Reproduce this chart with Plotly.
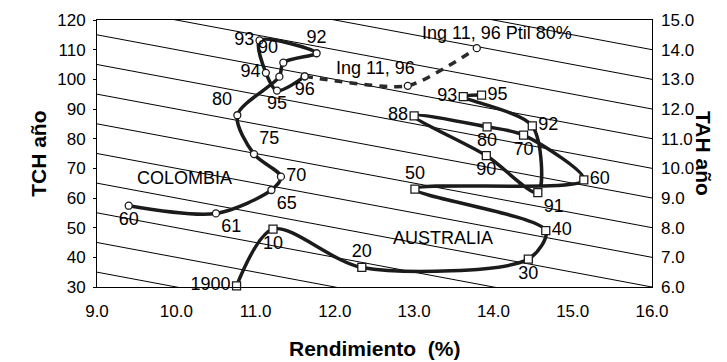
import plotly.graph_objects as go

# Colombia: yield (%) vs cane tonnage (TCH), labelled by year
col_year = ["60", "61", "65", "70", "75", "80", "", "90", "92", "93", "94", "95", "96"]
col_rend = [9.40, 10.50, 11.20, 11.32, 10.98, 10.77, 11.30, 11.35, 11.77, 11.05, 11.13, 11.27, 11.62]
col_tch = [57.4, 54.8, 62.7, 67.2, 74.8, 87.9, 100.9, 105.6, 108.8, 113.1, 102.2, 96.2, 101.0]

# Australia
aus_year = ["1900", "10", "20", "30", "40", "50", "60", "70", "80", "88", "90", "91", "92", "93", "95"]
aus_rend = [10.76, 11.22, 12.34, 14.44, 14.66, 13.01, 15.14, 14.38, 13.92, 13.00, 13.91, 14.56, 14.49, 13.62, 13.85]
aus_tch = [30.4, 49.5, 36.6, 39.4, 49.0, 63.0, 66.1, 81.2, 84.0, 87.7, 74.3, 61.8, 84.3, 94.2, 94.7]

# Projection from 1996 to the Ing 11 scenarios
ing_rend = [11.62, 12.92, 13.79]
ing_tch = [101.0, 97.8, 110.5]

# Guide lines: TCH value at 9.0 % and at 16.0 %
iso_start = [35, 45, 55, 65, 75, 85, 95, 105, 115, 125, 135, 145]
iso_end = [0, 10, 20, 30, 40, 50, 60, 70, 80, 90, 100, 110]

x_ticks = [9, 10, 11, 12, 13, 14, 15, 16]
tch_ticks = [30, 40, 50, 60, 70, 80, 90, 100, 110, 120]
tah_ticks = [6, 7, 8, 9, 10, 11, 12, 13, 14, 15]

FONT = "Liberation Sans, Arial, sans-serif"
INK = "#1b1b1b"

col_pos = ["bottom center", "bottom right", "bottom right", "middle right", "top right",
           "top left", "middle right", "top left", "top center", "middle left",
           "middle left", "bottom center", "bottom center"]
aus_pos = ["middle left", "bottom center", "top center", "bottom center", "middle right",
           "top center", "middle right", "bottom center", "bottom center", "middle left",
           "bottom center", "bottom right", "middle right", "middle left", "middle right"]

fig = go.Figure()

gx, gy = [], []
for a, b in zip(iso_start, iso_end):
    gx += [9, 16, None]
    gy += [a, b, None]
fig.add_trace(go.Scatter(x=gx, y=gy, mode="lines", line=dict(color="black", width=1),
                         hoverinfo="skip", showlegend=False))

fig.add_trace(go.Scatter(
    x=ing_rend, y=ing_tch, mode="lines+markers",
    line=dict(color="#2a2a2a", width=3.5, dash="8px,7px", shape="spline", smoothing=0.6),
    marker=dict(symbol="circle", size=7, color="white", line=dict(color=INK, width=1.3)),
    showlegend=False, cliponaxis=False))

fig.add_trace(go.Scatter(
    x=col_rend, y=col_tch, mode="lines+markers+text", text=col_year, textposition=col_pos,
    textfont=dict(family=FONT, size=18, color="black"),
    line=dict(color=INK, width=3.5, shape="spline", smoothing=0.85),
    marker=dict(symbol="circle", size=7, color="white", line=dict(color=INK, width=1.3)),
    showlegend=False, cliponaxis=False))

fig.add_trace(go.Scatter(
    x=aus_rend, y=aus_tch, mode="lines+markers+text", text=aus_year, textposition=aus_pos,
    textfont=dict(family=FONT, size=18, color="black"),
    line=dict(color=INK, width=3.5, shape="spline", smoothing=0.85),
    marker=dict(symbol="square", size=8, color="white", line=dict(color=INK, width=1.3)),
    showlegend=False, cliponaxis=False))

# invisible trace so the right-hand axis is drawn
fig.add_trace(go.Scatter(x=[9], y=[6], yaxis="y2", mode="markers",
                         marker=dict(opacity=0), hoverinfo="skip", showlegend=False))

txt = dict(family=FONT, size=18, color="black")
fig.add_annotation(x=10.10, y=66.6, text="COLOMBIA", showarrow=False, font=txt)
fig.add_annotation(x=13.36, y=46.6, text="AUSTRALIA", showarrow=False, font=txt)
fig.add_annotation(x=12.51, y=103.7, text="Ing 11, 96", showarrow=False, font=txt)
fig.add_annotation(x=14.04, y=115.5, text="Ing 11, 96 Ptil 80%", showarrow=False, font=txt)

bold = dict(family=FONT, size=21, color="black")
fig.add_annotation(xref="paper", yref="paper", x=-0.13, y=0.5, text="<b>TCH año</b>",
                   textangle=-90, showarrow=False, font=bold)
fig.add_annotation(xref="paper", yref="paper", x=1.117, y=0.5, text="<b>TAH año</b>",
                   textangle=90, showarrow=False, font=bold)
fig.add_annotation(xref="paper", yref="paper", x=0.5, y=-0.232, yanchor="middle",
                   text="<b>Rendimiento  (%)</b>", showarrow=False, font=bold, borderpad=0)

tick_font = dict(family=FONT, size=17, color="black")
fig.update_layout(
    width=727, height=362,
    margin=dict(l=97, r=75, t=20, b=75),
    paper_bgcolor="white", plot_bgcolor="white",
    xaxis=dict(range=[9, 16], tickvals=x_ticks, ticktext=[f"{v:.1f}" for v in x_ticks],
               showgrid=False, zeroline=False, showline=True, mirror=True,
               linecolor="black", linewidth=1, ticks="", tickfont=tick_font,
               ticklabelstandoff=9),
    yaxis=dict(range=[30, 120], tickvals=tch_ticks, showgrid=False, zeroline=False,
               showline=True, mirror=True, linecolor="black", linewidth=1,
               ticks="outside", ticklen=3, tickcolor="black", tickfont=tick_font,
               ticklabelstandoff=4),
    yaxis2=dict(range=[6, 15], tickvals=tah_ticks, ticktext=[f"{v:.1f}" for v in tah_ticks],
                overlaying="y", side="right", showgrid=False, zeroline=False,
                showline=False, ticks="", tickfont=tick_font, ticklabelstandoff=8),
)

fig.write_html("out.html")
